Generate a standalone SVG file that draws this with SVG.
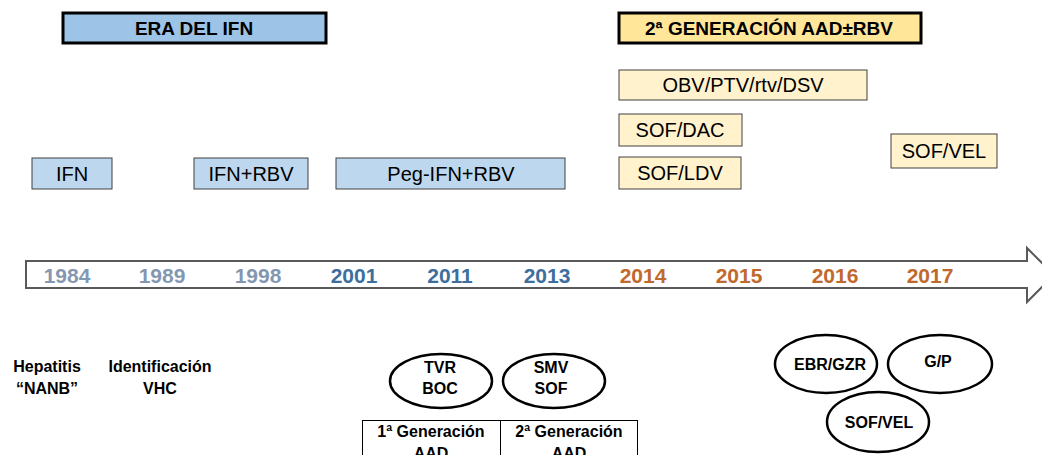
<svg xmlns="http://www.w3.org/2000/svg" width="1042" height="455" viewBox="0 0 1042 455">
<style>
text{font-family:"Liberation Sans",Arial,sans-serif;text-anchor:middle;fill:#000}
.hdr{stroke:#000;stroke-width:3}
.hb{fill:#9DC3E6}
.hy{fill:#FFE699}
.bb{fill:#BDD7EE;stroke:#404040;stroke-width:1}
.yb{fill:#FFF2CC;stroke:#404040;stroke-width:1}
.ht{font-size:19px;font-weight:bold}
.bt{font-size:20px}
.yr{font-size:21px;font-weight:bold}
.g{fill:#8497B0}.b{fill:#3C6F9E}.o{fill:#C0692C}
.el{fill:#fff;stroke:#000;stroke-width:2.5}
.et{font-size:16px;font-weight:bold}
.lt{font-size:16px;font-weight:bold}
.tb{fill:none;stroke:#000;stroke-width:1}
</style>
<rect width="1042" height="455" fill="#fff"/>
<g id="era-ifn"><rect class="hdr hb" x="63" y="13" width="263" height="30"/><text class="ht" x="194" y="35">ERA DEL IFN</text></g>
<g id="era-aad"><rect class="hdr hy" x="619" y="13" width="302" height="30"/><text class="ht" x="769" y="35">2ª GENERACIÓN AAD±RBV</text></g>
<g id="ifn"><rect class="bb" x="32" y="158" width="80" height="31"/><text class="bt" x="72" y="181">IFN</text></g>
<g id="ifn-rbv"><rect class="bb" x="194" y="158" width="114" height="31"/><text class="bt" x="251" y="181">IFN+RBV</text></g>
<g id="peg-ifn-rbv"><rect class="bb" x="336" y="158" width="229" height="31"/><text class="bt" x="451" y="181">Peg-IFN+RBV</text></g>
<g id="obv"><rect class="yb" x="619" y="70" width="248" height="30"/><text class="bt" x="743" y="92">OBV/PTV/rtv/DSV</text></g>
<g id="sof-dac"><rect class="yb" x="619" y="114" width="123" height="32"/><text class="bt" x="680" y="137">SOF/DAC</text></g>
<g id="sof-ldv"><rect class="yb" x="619" y="157" width="122" height="32"/><text class="bt" x="680" y="180">SOF/LDV</text></g>
<g id="sof-vel-box"><rect class="yb" x="891" y="134" width="106" height="34"/><text class="bt" x="944" y="158">SOF/VEL</text></g>
<g id="timeline">
<polygon points="26,261 1027,261 1027,248 1054,275 1027,302 1027,288 26,288" fill="#fff" stroke="#595959" stroke-width="2"/>
<text class="yr g" x="67" y="283">1984</text>
<text class="yr g" x="162" y="283">1989</text>
<text class="yr g" x="258" y="283">1998</text>
<text class="yr b" x="354" y="283">2001</text>
<text class="yr b" x="450" y="283">2011</text>
<text class="yr b" x="547" y="283">2013</text>
<text class="yr o" x="643" y="283">2014</text>
<text class="yr o" x="739" y="283">2015</text>
<text class="yr o" x="835" y="283">2016</text>
<text class="yr o" x="930" y="283">2017</text>
</g>
<g id="hepatitis"><text class="lt" x="47" y="372">Hepatitis</text><text class="lt" x="47" y="394">“NANB”</text></g>
<g id="identificacion"><text class="lt" x="160" y="372">Identificación</text><text class="lt" x="160" y="394">VHC</text></g>
<g id="tvr-boc"><ellipse class="el" cx="441" cy="381" rx="51" ry="27"/><text class="et" x="440" y="373">TVR</text><text class="et" x="440" y="394">BOC</text></g>
<g id="smv-sof"><ellipse class="el" cx="554" cy="381" rx="51" ry="27"/><text class="et" x="551" y="373">SMV</text><text class="et" x="551" y="394">SOF</text></g>
<g id="generaciones">
<rect class="tb" x="362.500" y="420.500" width="275" height="50"/>
<line class="tb" x1="500.500" y1="420.500" x2="500.500" y2="470"/>
<text class="et" x="431" y="437">1ª Generación</text>
<text class="et" x="569" y="437">2ª Generación</text>
<text class="et" x="431" y="459">AAD</text>
<text class="et" x="569" y="459">AAD</text>
</g>
<g id="ebr-gzr"><ellipse class="el" cx="826" cy="364" rx="51" ry="29"/><text class="et" x="830" y="370">EBR/GZR</text></g>
<g id="g-p"><ellipse class="el" cx="940" cy="364" rx="52" ry="29"/><text class="et" x="938" y="367">G/P</text></g>
<g id="sof-vel"><ellipse class="el" cx="878" cy="422" rx="51" ry="30"/><text class="et" x="879" y="428">SOF/VEL</text></g>
</svg>
